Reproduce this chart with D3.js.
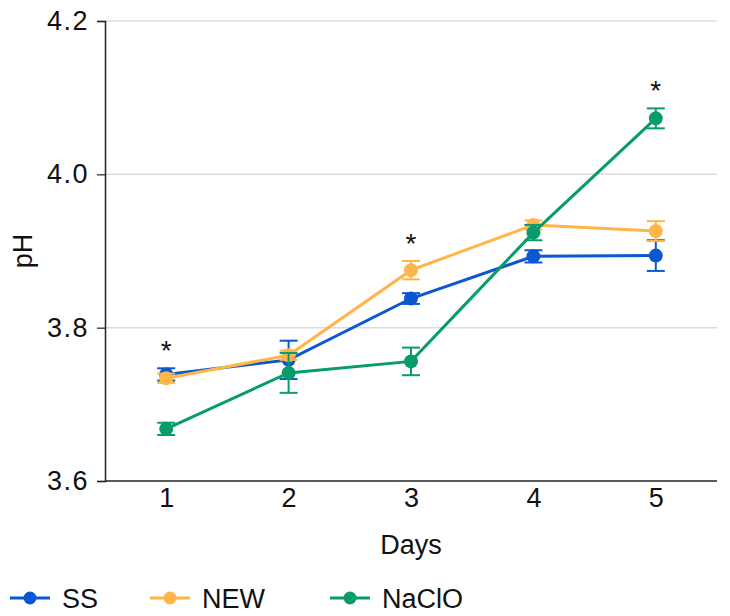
<!doctype html>
<html>
<head>
<meta charset="utf-8">
<title>pH by day</title>
<style>
  body { margin: 0; background: #fff; }
  text { font-family: "Liberation Sans", Arial, sans-serif; fill: #111; }
</style>
</head>
<body>
<svg width="730" height="616"></svg>
<script src="https://cdnjs.cloudflare.com/ajax/libs/d3/7.8.5/d3.min.js"></script>
<script>
var days = [1, 2, 3, 4, 5];
var yTicks = [3.6, 3.8, 4.0, 4.2];

var ssMean = [3.739, 3.758, 3.838, 3.893, 3.894];
var ssErr = [0.008, 0.025, 0.007, 0.008, 0.020];
var newMean = [3.734, 3.764, 3.875, 3.934, 3.926];
var newErr = [0.006, 0.006, 0.012, 0.006, 0.013];
var naclMean = [3.668, 3.741, 3.756, 3.924, 4.073];
var naclErr = [0.008, 0.026, 0.018, 0.010, 0.013];

var starDays = [1, 3, 5];

var series = [
  { name: "SS", color: "#0b57d0", mean: ssMean, err: ssErr },
  { name: "NEW", color: "#ffb547", mean: newMean, err: newErr },
  { name: "NaClO", color: "#089b6b", mean: naclMean, err: naclErr }
];

var svg = d3.select("svg");

var x = d3.scalePoint()
    .domain(days)
    .range([105, 717])
    .padding(0.5);

var y = d3.scaleLinear()
    .domain([3.6, 4.2])
    .range([481, 21]);

// grid
svg.selectAll(".grid")
  .data(yTicks.slice(1))
  .enter()
  .append("line")
  .attr("x1", 105)
  .attr("x2", 717)
  .attr("y1", function(d){ return y(d); })
  .attr("y2", function(d){ return y(d); })
  .attr("stroke", "#dcdcdc")
  .attr("stroke-width", 1.5);

// y axis
var yAxis = svg.append("g")
    .attr("transform", "translate(105,0)")
    .call(d3.axisLeft(y).tickValues(yTicks).tickFormat(d3.format(".1f")).tickSizeOuter(0).tickSize(8).tickPadding(8));
yAxis.select(".domain").attr("stroke", "#222").attr("stroke-width", 1.5);
yAxis.selectAll(".tick line").attr("stroke", "#222").attr("stroke-width", 1.2);
yAxis.selectAll("text").attr("font-size", 27).attr("fill", "#111")
  .attr("letter-spacing", 1.5)
  .style("font-family", "'Liberation Sans', Arial, sans-serif");

// x axis
var xAxis = svg.append("g")
    .attr("transform", "translate(0,481)")
    .call(d3.axisBottom(x).tickSize(0).tickPadding(7));
xAxis.select(".domain").attr("d", "M105,0H717").attr("stroke", "#222").attr("stroke-width", 1.5);
xAxis.selectAll("text").attr("font-size", 27).attr("fill", "#111")
  .style("font-family", "'Liberation Sans', Arial, sans-serif");

svg.append("text")
  .attr("x", x(3))
  .attr("y", 554)
  .attr("text-anchor", "middle")
  .attr("font-size", 27)
  .text("Days");

svg.append("text")
  .attr("transform", "translate(32,251) rotate(-90)")
  .attr("text-anchor", "middle")
  .attr("font-size", 27)
  .text("pH");

var line = d3.line()
    .x(function(d){ return x(d.day); })
    .y(function(d){ return y(d.mean); });

series.forEach(function(s) {
  var pts = days.map(function(d, i){ return { day: d, mean: s.mean[i], err: s.err[i] }; });
  var g = svg.append("g");

  g.append("path")
    .datum(pts)
    .attr("d", line)
    .attr("fill", "none")
    .attr("stroke", s.color)
    .attr("stroke-width", 3);

  var eb = g.selectAll(".eb")
    .data(pts)
    .enter()
    .append("g");
  eb.append("line")
    .attr("x1", function(d){ return x(d.day); })
    .attr("x2", function(d){ return x(d.day); })
    .attr("y1", function(d){ return y(d.mean + d.err); })
    .attr("y2", function(d){ return y(d.mean - d.err); })
    .attr("stroke", s.color).attr("stroke-width", 2);
  [1, -1].forEach(function(sign) {
    eb.append("line")
      .attr("x1", function(d){ return x(d.day) - 9; })
      .attr("x2", function(d){ return x(d.day) + 9; })
      .attr("y1", function(d){ return y(d.mean + sign * d.err); })
      .attr("y2", function(d){ return y(d.mean + sign * d.err); })
      .attr("stroke", s.color).attr("stroke-width", 2);
  });
  eb.append("circle")
    .attr("cx", function(d){ return x(d.day); })
    .attr("cy", function(d){ return y(d.mean); })
    .attr("r", 7)
    .attr("fill", s.color);
});

// significance stars
svg.selectAll(".star")
  .data(starDays)
  .enter()
  .append("text")
  .attr("x", function(d){ return x(d); })
  .attr("y", function(d) {
    var i = days.indexOf(d);
    var top = d3.max(series, function(s){ return s.mean[i] + s.err[i]; });
    return y(top) - 8;
  })
  .attr("text-anchor", "middle")
  .attr("font-size", 28)
  .text("*");

// legend
var legendX = [10, 150, 330];
var lg = svg.selectAll(".legend")
  .data(series)
  .enter()
  .append("g")
  .attr("transform", function(d, i){ return "translate(" + legendX[i] + ",598)"; });
lg.append("line")
  .attr("x1", 0).attr("x2", 40)
  .attr("stroke", function(d){ return d.color; })
  .attr("stroke-width", 3);
lg.append("circle")
  .attr("cx", 20).attr("r", 6.5)
  .attr("fill", function(d){ return d.color; });
lg.append("text")
  .attr("x", 52)
  .attr("y", 10)
  .attr("font-size", 27)
  .text(function(d){ return d.name; });
</script>
</body>
</html>
